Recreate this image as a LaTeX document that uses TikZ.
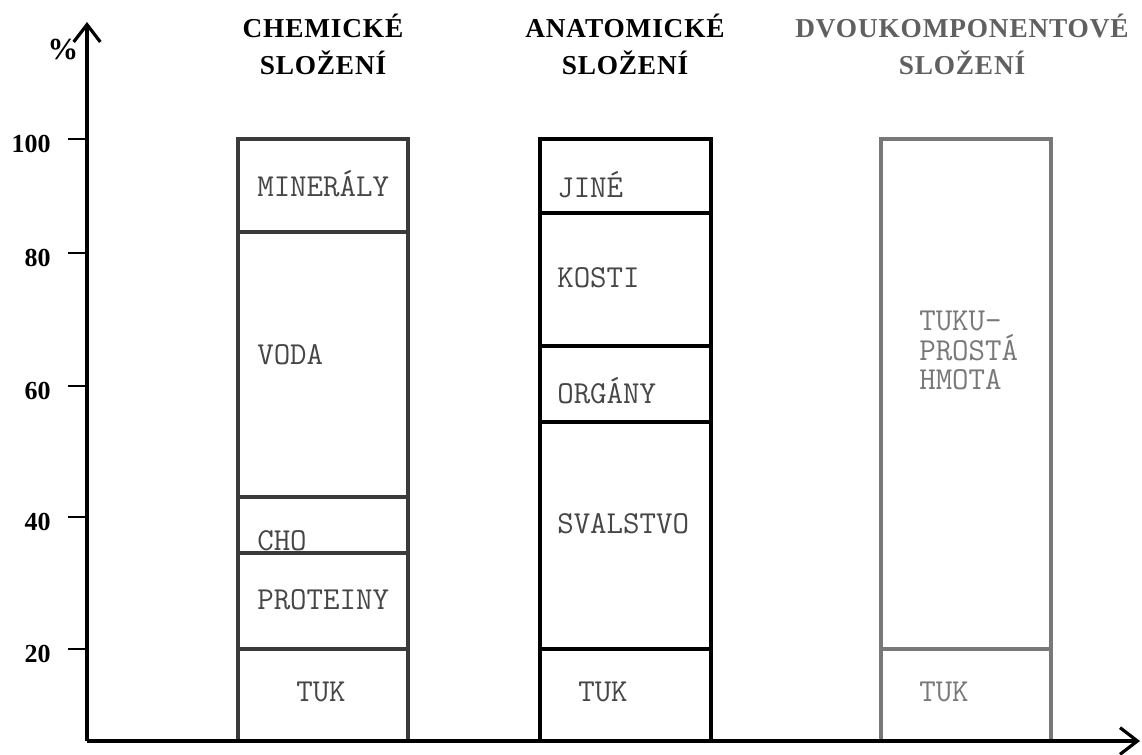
\documentclass[tikz,border=0pt]{standalone}
\usepackage{fontspec}
\setmainfont{Liberation Serif}
\newfontfamily\headfont{Liberation Serif}[LetterSpace=3]
\usetikzlibrary{arrows.meta}

\definecolor{boxgrey}{RGB}{58,58,58}
\definecolor{lightgrey}{RGB}{120,120,120}
\definecolor{textgrey}{RGB}{70,70,70}

\tikzset{
  axis/.style={line width=2.6pt, -{Straight Barb[length=13pt,width=20pt,line width=2.4pt]}},
  boxline/.style={line width=2.3pt},
  head/.style={align=center, inner sep=0pt, anchor=base,
    font=\headfont\bfseries\fontsize{20.5}{27.75}\selectfont},
  cell/.style={anchor=west, inner sep=0pt, align=left, text=textgrey,
    font=\ttfamily\fontsize{24}{22}\selectfont},
  ticklabel/.style={anchor=east, inner sep=0pt, font=\bfseries\fontsize{19.5}{22}\selectfont}
}

\begin{document}
\begin{tikzpicture}[x=0.75pt,y=0.75pt,yscale=-1,xscale=1]
  \path[use as bounding box] (0,0) rectangle (1142,755);

  % Headers
  \node[head] (chemhead) at (323,75) {CHEMICKÉ\\SLOŽENÍ};
  \node[head] (anathead) at (625,75) {ANATOMICKÉ\\SLOŽENÍ};
  \node[head, text=lightgrey!80!black] (dvouhead) at (962,75) {DVOUKOMPONENTOVÉ\\SLOŽENÍ};

  %Shape: Rectangle (chemicke)
  \draw[boxline, boxgrey] (238,139) rectangle (408,741);
  \draw[boxline, boxgrey] (238,232) -- (408,232);
  \draw[boxline, boxgrey] (238,497) -- (408,497);
  \draw[boxline, boxgrey] (238,553) -- (408,553);
  \draw[boxline, line width=3pt, boxgrey] (238,649) -- (408,649);

  %Shape: Rectangle (anatomicke)
  \draw[boxline, black] (540,139) rectangle (711,741);
  \draw[boxline, black] (540,213) -- (711,213);
  \draw[boxline, black] (540,346) -- (711,346);
  \draw[boxline, black] (540,422) -- (711,422);
  \draw[boxline, line width=3pt, black] (540,649) -- (711,649);

  %Shape: Rectangle (dvoukomponentove)
  \draw[boxline, lightgrey] (881,139) rectangle (1051,741);
  \draw[boxline, line width=3pt, lightgrey] (881,649) -- (1051,649);

  % Text Node
  \node[cell] (mineraly) at (257,184) {MINERÁLY};
  \node[cell] (voda) at (257,355) {VODA};
  \node[cell] (cho) at (257,541) {CHO};
  \node[cell] (proteiny) at (257,600) {PROTEINY};
  \node[cell] (tukchem) at (296,692) {TUK};
  % Text Node
  \node[cell] (jine) at (557,185) {JINÉ};
  \node[cell] (kosti) at (557,278) {KOSTI};
  \node[cell] (organy) at (557,391) {ORGÁNY};
  \node[cell] (svalstvo) at (557,524) {SVALSTVO};
  \node[cell] (tukanat) at (578,692) {TUK};
  % Text Node
  \node[cell, text=lightgrey, anchor=north west] (tukuprosta) at (919,311) {TUKU-\\PROSTÁ\\HMOTA};
  \node[cell, text=lightgrey] (tukdvou) at (919,692) {TUK};

  % Axes
  \draw[axis] (87,741) -- (87,22);
  \draw[axis] (87,741) -- (1140,741);
  \node[inner sep=0pt, font=\bfseries\fontsize{23}{24}\selectfont] (percent) at (63,50) {\%};

  \foreach \yy/\val in {139/100,253/80,386/60,517/40,649/20}{
    \draw[line width=1.6pt] (68,\yy) -- (87,\yy);
    \node[ticklabel] (tick\val) at (51,\yy+5) {\val};
  }
\end{tikzpicture}
\end{document}
